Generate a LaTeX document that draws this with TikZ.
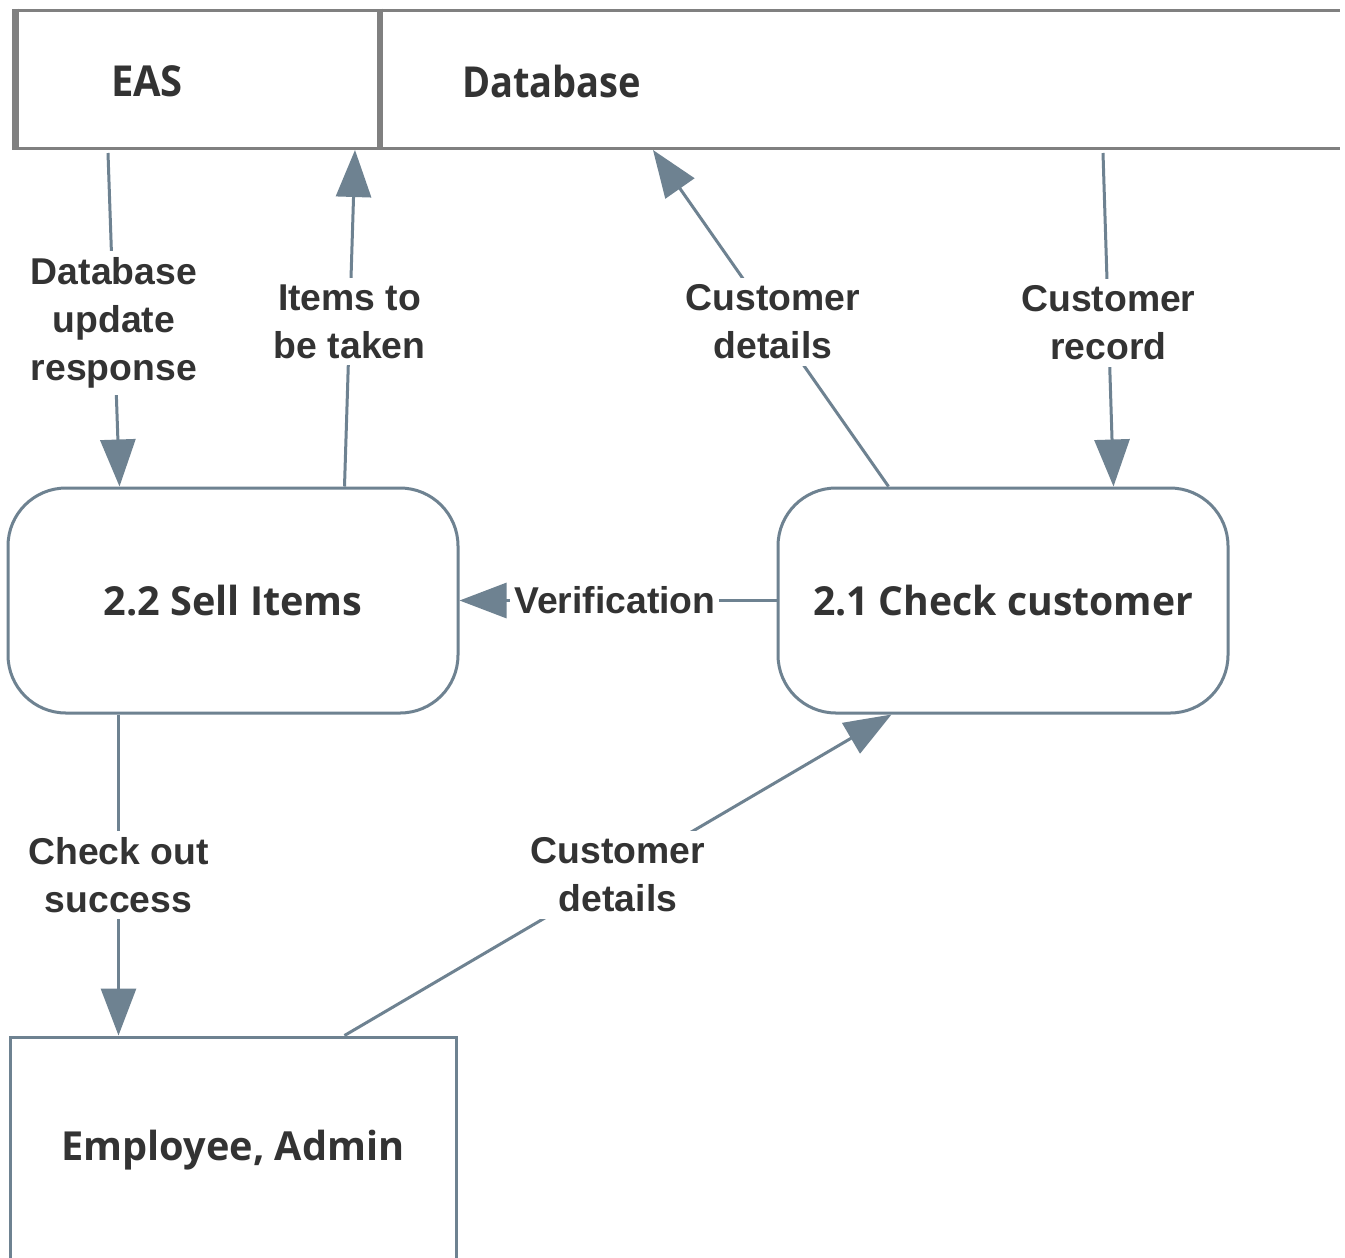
\documentclass[tikz,border=0pt]{standalone}
\usepackage{fontspec}
\setmainfont{Liberation Sans}
\newfontfamily\boxfont{Open Sans}
\usetikzlibrary{arrows.meta,calc}
\definecolor{edge}{HTML}{6E8291}
\definecolor{store}{HTML}{808080}
\definecolor{ink}{HTML}{333333}
\def\px{0.75pt}
% set a text at its natural height, stretched or squeezed to a given width
\newsavebox\fitbox
\newcommand\fitw[2]{\sbox\fitbox{#2}\pgfmathsetmacro\fitfac{#1/\wd\fitbox}\scalebox{\fitfac}[1]{\usebox\fitbox}}
\tikzset{
  storeline/.style={draw=store, line width=3*\px},
  storewall/.style={draw=store, line width=6.5*\px},
  storetext/.style={text=ink, font=\boxfont\fontsize{32}{36}\selectfont\bfseries, inner sep=0pt},
  process/.style={draw=edge, line width=3*\px, rounded corners=58*\px,
    minimum width=450*\px, minimum height=225*\px, fill=white,
    text=ink, font=\boxfont\fontsize{30}{34}\selectfont\bfseries},
  entity/.style={draw=edge, line width=3*\px,
    minimum width=446*\px, minimum height=226*\px, fill=white,
    text=ink, font=\boxfont\fontsize{30}{34}\selectfont\bfseries},
  flow/.style={draw=edge, line width=3*\px, -{Triangle[length=47*\px, width=35*\px]}},
  lbl/.style={fill=white, text=ink, font=\fontsize{28}{36}\selectfont\bfseries,
    align=center, inner sep=5pt},
}
\begin{document}
\begin{tikzpicture}[x=0.75pt, y=-0.75pt]
\useasboundingbox (0,0) rectangle (1345,1257);
\clip (0,0) rectangle (1345,1257);
\fill[white] (0,0) rectangle (1345,1257);

% data store: EAS | Database
\draw[storeline] (12,10) -- (1340,10);
\draw[storeline] (12,148.5) -- (1340,148.5);
\draw[storewall] (15.5,8.5) -- (15.5,150);
\draw[storewall] (380,8.5) -- (380,150);
\node[storetext] (eas) at (147,81) {\fitw{54}{EAS}};
\node[storetext] (db) at (551.5,81) {\fitw{134.25}{Database}};

% attachment points on the store's lower edge
\coordinate (easout) at (108,153);
\coordinate (easin)  at (355,150);
\coordinate (dbin)   at (653,150);
\coordinate (dbout)  at (1103,153);

% processes and external entity
\node[process] (sell)  at (233,600.5)  {\fitw{194.25}{2.2 Sell Items}};
\node[process] (check) at (1003,600.5) {\fitw{285}{2.1 Check customer}};
\node[entity]  (emp)   at (233,1150)   {\fitw{257.25}{Employee, Admin}};

% data flows
\draw[flow] (easout) -- node[lbl, pos=0.51] {Database\\update\\response}
  ($(sell.north west)+(113,0)$);
\draw[flow] ($(sell.north west)+(338,0)$) -- node[lbl, pos=0.49] {Items to\\be taken} (easin);
\draw[flow] ($(check.north west)+(112,0)$) -- node[lbl, pos=0.49] {Customer\\details} (dbin);
\draw[flow] (dbout) -- node[lbl, pos=0.51] {Customer\\record}
  ($(check.north west)+(337,0)$);
\draw[flow] (check.west) -- node[lbl, pos=0.51, inner xsep=3pt] {Verification} (sell.east);
\draw[flow] ($(sell.south west)+(112,0)$) -- node[lbl] {Check out\\success}
  ($(emp.north west)+(110,0)$);
\draw[flow] ($(emp.north west)+(336,0)$) -- node[lbl] {Customer\\details}
  ($(check.south west)+(115,0)$);
\end{tikzpicture}
\end{document}
